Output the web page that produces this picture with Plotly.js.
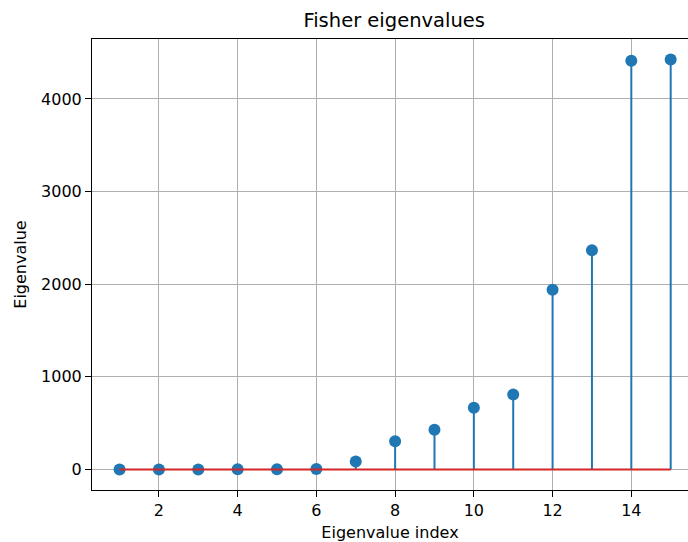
<!DOCTYPE html>
<html>
<head>
<meta charset="utf-8">
<script src="https://cdn.plot.ly/plotly-3.0.1.min.js"></script>
<style>html,body{margin:0;padding:0;background:#fff;}#chart{width:688px;height:542px;}</style>
</head>
<body>
<div id="chart"></div>
<script>
const indices = [1, 2, 3, 4, 5, 6, 7, 8, 9, 10, 11, 12, 13, 14, 15];
const eigenvalues = [0.2, 0.5, 1, 2, 3, 5, 86, 306, 429, 666, 810, 1941, 2366, 4411, 4426];
const xTicks = [2, 4, 6, 8, 10, 12, 14];
const yTicks = [0, 1000, 2000, 3000, 4000];

const blue = '#1f77b4';
const red = '#d62728';
const font = 'DejaVu Sans, sans-serif';

const stems = {
  x: indices,
  y: eigenvalues,
  type: 'scatter',
  mode: 'markers',
  marker: {color: blue, size: 12},
  error_y: {
    type: 'data',
    symmetric: false,
    array: eigenvalues.map(() => 0),
    arrayminus: eigenvalues,
    width: 0,
    thickness: 2,
    color: blue
  },
  hoverinfo: 'x+y',
  showlegend: false
};

const baseline = {
  x: [indices[0], indices[indices.length - 1]],
  y: [0, 0],
  type: 'scatter',
  mode: 'lines',
  line: {color: red, width: 2},
  hoverinfo: 'skip',
  showlegend: false
};

const layout = {
  width: 688,
  height: 542,
  margin: {l: 92, r: 0, t: 39, b: 52},
  paper_bgcolor: '#fff',
  plot_bgcolor: '#fff',
  font: {family: font, color: '#000', size: 16},
  title: {
    text: 'Fisher eigenvalues',
    font: {family: font, size: 19.5, color: '#000'},
    xref: 'paper', x: 0.507, xanchor: 'center',
    yref: 'container', y: 1 - 20 / 542, yanchor: 'middle'
  },
  xaxis: {
    range: [0.3, 15.44],
    tickmode: 'array',
    tickvals: xTicks,
    ticktext: xTicks.map(String),
    ticks: 'outside', ticklen: 6, tickwidth: 1, tickcolor: '#000',
    showgrid: true, gridcolor: '#b0b0b0', gridwidth: 1,
    zeroline: false,
    showline: true, linecolor: '#000', linewidth: 1, mirror: true,
    tickfont: {family: font, size: 16, color: '#000'},
    title: {text: 'Eigenvalue index', font: {family: font, size: 16, color: '#000'}, standoff: 8}
  },
  yaxis: {
    range: [-221, 4647],
    tickmode: 'array',
    tickvals: yTicks,
    ticktext: yTicks.map(String),
    ticks: 'outside', ticklen: 6, tickwidth: 1, tickcolor: '#000',
    showgrid: true, gridcolor: '#b0b0b0', gridwidth: 1,
    zeroline: false,
    showline: true, linecolor: '#000', linewidth: 1,
    tickfont: {family: font, size: 16, color: '#000'},
    title: {text: 'Eigenvalue', font: {family: font, size: 16, color: '#000'}, standoff: 10}
  }
};

Plotly.newPlot('chart', [stems, baseline], layout, {displayModeBar: false, staticPlot: true});
</script>
</body>
</html>
